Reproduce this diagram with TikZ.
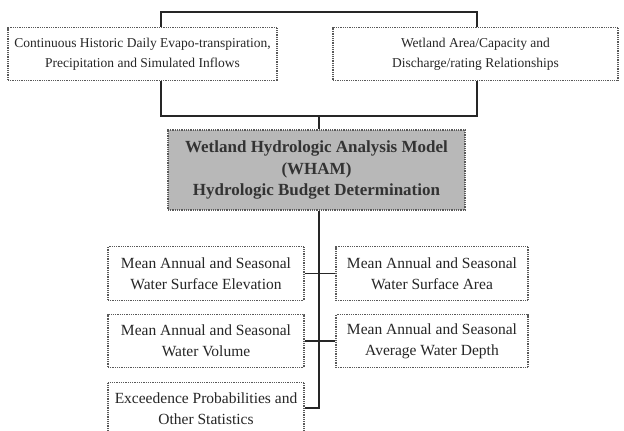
\documentclass[tikz,border=0pt]{standalone}
\usepackage{fontspec}
\setmainfont{Liberation Serif}
\begin{document}
\begin{tikzpicture}[x=1pt,y=1pt,
  box/.style={draw=black!65, line width=1.1pt, dash pattern=on 0.9pt off 0.9pt, fill=white,
    align=center, inner sep=0pt, text=black!85},
  topbox/.style={box, font=\fontsize{13.5}{20}\selectfont},
  outbox/.style={box, font=\fontsize{15.5}{21}\selectfont},
  whambox/.style={box, fill=black!28, font=\bfseries\fontsize{17}{21.5}\selectfont, text=black!80},
  link/.style={draw=black!85, line width=1.8pt}]
\useasboundingbox (0,0) rectangle (624,-431);
\fill[white] (0,0) rectangle (624,-431);
% top boxes
\node[topbox, minimum width=269, minimum height=53] (lt) at (142.5,-54)
  {Continuous Historic Daily Evapo-transpiration,\\Precipitation and Simulated Inflows};
\node[topbox, minimum width=285, minimum height=53] (rt) at (475.5,-54)
  {Wetland Area/Capacity and\\Discharge/rating Relationships};
% WHAM
\node[whambox, minimum width=297, minimum height=80] (wham) at (316.5,-170)
  {Wetland Hydrologic Analysis Model\\(WHAM)\\Hydrologic Budget Determination};
% outputs
\node[outbox, minimum width=196, minimum height=54] (elev) at (206,-273.5)
  {Mean Annual and Seasonal\\Water Surface Elevation};
\node[outbox, minimum width=192, minimum height=54] (area) at (432,-273.5)
  {Mean Annual and Seasonal\\Water Surface Area};
\node[outbox, minimum width=196, minimum height=53] (vol) at (206,-341)
  {Mean Annual and Seasonal\\Water Volume};
\node[outbox, minimum width=192, minimum height=53] (depth) at (432,-341)
  {Mean Annual and Seasonal\\Average Water Depth};
\node[outbox, minimum width=196, minimum height=52, anchor=north] (exc) at (206,-382)
  {Exceedence Probabilities and\\Other Statistics};
% connectors
\coordinate (tl) at (161,-12);
\coordinate (tr) at (477,-12);
\coordinate (bl) at (161,-116);
\coordinate (br) at (477,-116);
\coordinate (bm) at (319,-116);
\coordinate (send) at (319,-408);
\draw[link] (lt.north -| tl) -- (tl) -- (tr) -- (rt.north -| tr);
\draw[link] (lt.south -| bl) -- (bl) -- (br) -- (rt.south -| br);
\draw[link] (bm) -- (wham.north -| bm);
\draw[link] (wham.south -| send) -- (send) -- (exc.east |- send);
\draw[link] (elev.east) -- (area.west);
\draw[link] (vol.east) -- (depth.west);
\end{tikzpicture}
\end{document}
